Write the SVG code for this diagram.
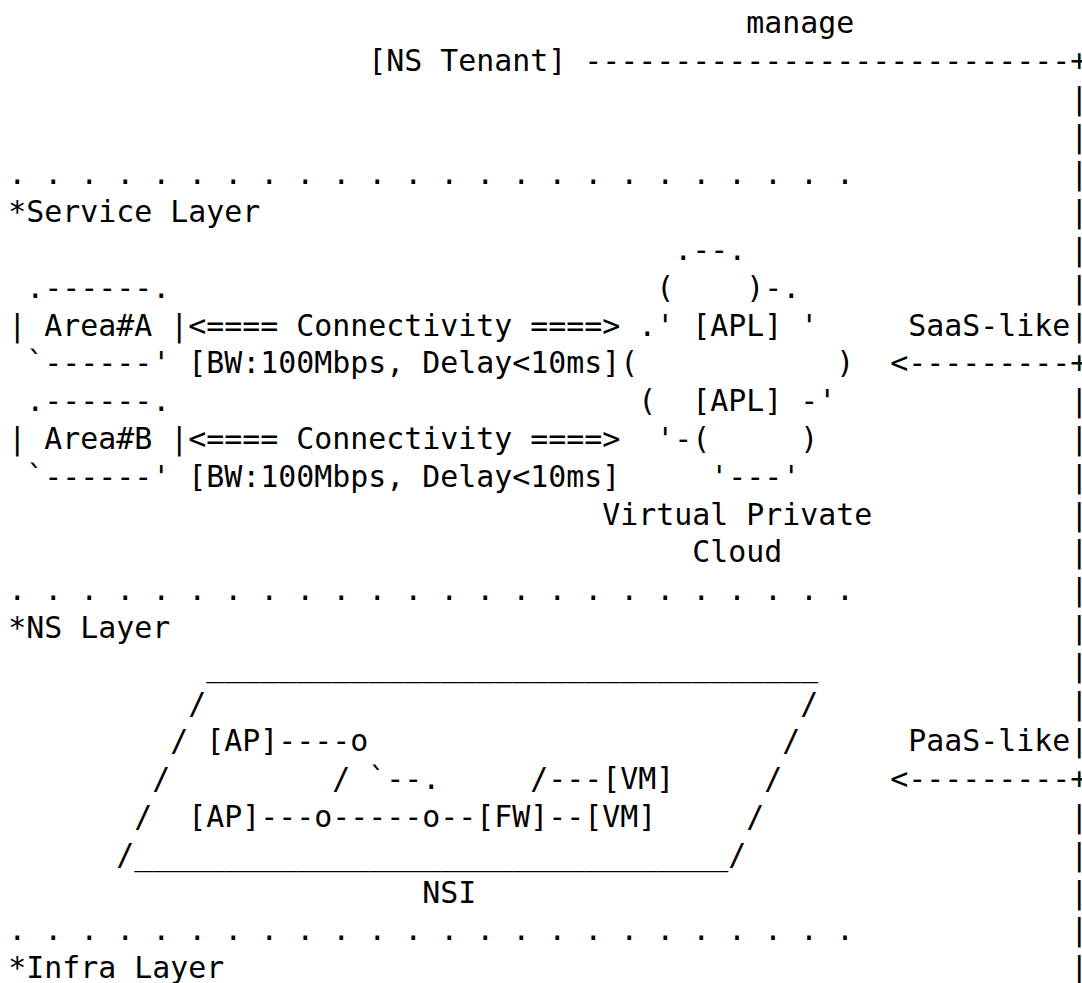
<svg xmlns="http://www.w3.org/2000/svg" width="1082" height="983" viewBox="0 0 1082 983" xml:space="preserve">
<style>
text { font-family: 'DejaVu Sans Mono', 'Liberation Mono', monospace; font-size: 29.9px; fill: #000; white-space: pre; }
</style>
<rect x="0" y="0" width="1082" height="983" fill="#fff"/>
<g id="ns-tenant">
<text x="368.3" y="71">[NS Tenant]</text>
</g>
<g id="service-layer">
<text x="8.3" y="184.4">. . . . . . . . . . . . . . . . . . . . . . . .</text>
<text x="8.3" y="222.2">*Service Layer</text>
</g>
<g id="area-a">
<text x="26.3" y="297.8">.------.</text>
<text x="8.3" y="335.6">| Area#A |</text>
<text x="26.3" y="373.4">`------'</text>
</g>
<g id="area-b">
<text x="26.3" y="411.2">.------.</text>
<text x="8.3" y="449">| Area#B |</text>
<text x="26.3" y="486.8">`------'</text>
</g>
<g id="vpc">
<text x="674.3" y="260">.--.</text>
<text x="656.3" y="297.8">(    )-.</text>
<text x="638.3" y="335.6">.' [APL] '</text>
<text x="620.3" y="373.4">(           )</text>
<text x="638.3" y="411.2">(  [APL] -'</text>
<text x="656.3" y="449">'-(     )</text>
<text x="710.3" y="486.8">'---'</text>
<text x="602.3" y="524.6">Virtual Private</text>
<text x="692.3" y="562.4">Cloud</text>
</g>
<g id="ns-layer">
<text x="8.3" y="600.2">. . . . . . . . . . . . . . . . . . . . . . . .</text>
<text x="8.3" y="638">*NS Layer</text>
</g>
<g id="nsi">
<text x="206.3" y="675.8">__________________________________</text>
<text x="188.3" y="713.6">/</text>
<text x="800.3" y="713.6">/</text>
<text x="170.3" y="751.4">/ [AP]----o</text>
<text x="782.3" y="751.4">/</text>
<text x="152.3" y="789.2">/</text>
<text x="332.3" y="789.2">/ `--.</text>
<text x="530.3" y="789.2">/---[VM]</text>
<text x="764.3" y="789.2">/</text>
<text x="134.3" y="827">/</text>
<text x="188.3" y="827">[AP]---o-----o--[FW]--[VM]</text>
<text x="746.3" y="827">/</text>
<text x="116.3" y="864.8">/_________________________________/</text>
<text x="422.3" y="902.6">NSI</text>
</g>
<g id="infra-layer">
<text x="8.3" y="940.4">. . . . . . . . . . . . . . . . . . . . . . . .</text>
<text x="8.3" y="978.2">*Infra Layer</text>
</g>
<g id="connectors">
<text x="746.3" y="33.2">manage</text>
<text x="584.3" y="71">---------------------------+</text>
<text x="1070.3" y="108.8">|</text>
<text x="1070.3" y="146.6">|</text>
<text x="1070.3" y="184.4">|</text>
<text x="1070.3" y="222.2">|</text>
<text x="1070.3" y="260">|</text>
<text x="1070.3" y="297.8">|</text>
<text x="188.3" y="335.6">&lt;==== Connectivity ====&gt;</text>
<text x="908.3" y="335.6">SaaS-like|</text>
<text x="188.3" y="373.4">[BW:100Mbps, Delay&lt;10ms]</text>
<text x="890.3" y="373.4">&lt;---------+</text>
<text x="1070.3" y="411.2">|</text>
<text x="188.3" y="449">&lt;==== Connectivity ====&gt;</text>
<text x="1070.3" y="449">|</text>
<text x="188.3" y="486.8">[BW:100Mbps, Delay&lt;10ms]</text>
<text x="1070.3" y="486.8">|</text>
<text x="1070.3" y="524.6">|</text>
<text x="1070.3" y="562.4">|</text>
<text x="1070.3" y="600.2">|</text>
<text x="1070.3" y="638">|</text>
<text x="1070.3" y="675.8">|</text>
<text x="1070.3" y="713.6">|</text>
<text x="908.3" y="751.4">PaaS-like|</text>
<text x="890.3" y="789.2">&lt;---------+</text>
<text x="1070.3" y="827">|</text>
<text x="1070.3" y="864.8">|</text>
<text x="1070.3" y="902.6">|</text>
<text x="1070.3" y="940.4">|</text>
<text x="1070.3" y="978.2">|</text>
</g>
</svg>
